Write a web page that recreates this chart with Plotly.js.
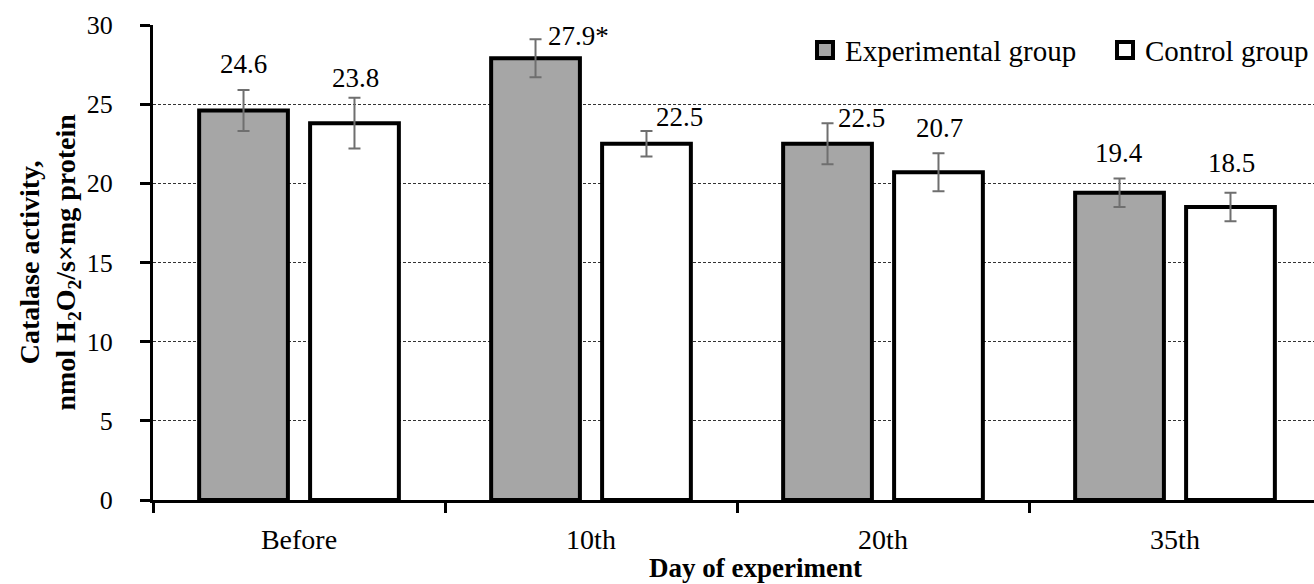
<!DOCTYPE html>
<html>
<head>
<meta charset="utf-8">
<script src="https://cdn.plot.ly/plotly-3.0.1.min.js"></script>
<style>
  html, body { margin: 0; padding: 0; background: #ffffff; }
  #chart { width: 1314px; height: 584px; }
</style>
</head>
<body>
<div id="chart"></div>
<script>
// ---- data ----
var categories = ['Before', '10th', '20th', '35th'];
var experimental = [24.6, 27.9, 22.5, 19.4];
var control = [23.8, 22.5, 20.7, 18.5];
var experimentalErr = [1.3, 1.2, 1.3, 0.9];
var controlErr = [1.6, 0.8, 1.2, 0.9];
var experimentalMarks = ['', '*', '', ''];
var controlMarks = ['', '', '', ''];
var seriesNames = ['Experimental group', 'Control group'];
var yTicks = [0, 5, 10, 15, 20, 25, 30];

// ---- label placement style (pixels) ----
var expLabelStyle = [
  {anchor: 'center', dx: 0, dy: 30},
  {anchor: 'left', dx: 11, dy: 5},
  {anchor: 'left', dx: 9, dy: 9},
  {anchor: 'center', dx: 0, dy: 23}
];
var ctrlLabelStyle = [
  {anchor: 'center', dx: 0, dy: 28},
  {anchor: 'left', dx: 7, dy: 10},
  {anchor: 'center', dx: 0, dy: 27},
  {anchor: 'center', dx: 0, dy: 27}
];

var FONT = 'Liberation Serif';
var GREY = '#a6a6a6';
var ERRC = '#6f6f6f';
var BAROFF = 56;

var traces = [
  {
    type: 'bar', x: categories, y: experimental, name: seriesNames[0], showlegend: false,
    marker: {color: GREY, line: {color: '#000000', width: 4}},
    error_y: {type: 'data', array: experimentalErr, visible: true, color: ERRC, thickness: 2, width: 6},
    hoverinfo: 'x+y'
  },
  {
    type: 'bar', x: categories, y: control, name: seriesNames[1], showlegend: false,
    marker: {color: '#ffffff', line: {color: '#000000', width: 4}},
    error_y: {type: 'data', array: controlErr, visible: true, color: ERRC, thickness: 2, width: 6},
    hoverinfo: 'x+y'
  },
  {
    type: 'scatter', mode: 'markers', x: [null], y: [null], name: seriesNames[0],
    marker: {symbol: 'square', size: 16, color: GREY, line: {color: '#000000', width: 4}}
  },
  {
    type: 'scatter', mode: 'markers', x: [null], y: [null], name: seriesNames[1],
    marker: {symbol: 'square', size: 16, color: '#ffffff', line: {color: '#000000', width: 4}}
  }
];

var annotations = [];
function addLabels(vals, marks, styles, sign) {
  for (var i = 0; i < vals.length; i++) {
    var st = styles[i];
    annotations.push({
      x: categories[i], y: vals[i], xref: 'x', yref: 'y',
      text: vals[i].toFixed(1) + marks[i],
      showarrow: false,
      xanchor: st.anchor, yanchor: 'bottom',
      xshift: sign * BAROFF + st.dx, yshift: st.dy,
      font: {family: FONT, size: 27, color: '#000000'}
    });
  }
}
addLabels(experimental, experimentalMarks, expLabelStyle, -1);
addLabels(control, controlMarks, ctrlLabelStyle, 1);

// axis titles
annotations.push({
  xref: 'paper', yref: 'paper', x: 0.519, y: -0.1768, xanchor: 'center', yanchor: 'bottom',
  yshift: -1,
  text: '<b>Day of experiment</b>', showarrow: false,
  font: {family: FONT, size: 27, color: '#000000'}
});
annotations.push({
  xref: 'paper', yref: 'paper', x: -0.0895, y: 0.5, xanchor: 'center', yanchor: 'middle',
  textangle: -90,
  text: '<b>Catalase activity,<br>nmol H<sub>2</sub>O<sub>2</sub>/s×mg protein</b>', showarrow: false,
  font: {family: FONT, size: 28, color: '#000000'}
});

var layout = {
  width: 1314, height: 584,
  margin: {l: 153, r: 0, t: 25, b: 84, pad: 0, autoexpand: false},
  paper_bgcolor: '#ffffff', plot_bgcolor: '#ffffff',
  barmode: 'group', bargap: 0.24, bargroupgap: 0.2,
  font: {family: FONT, color: '#000000', size: 25},
  showlegend: true,
  legend: {
    orientation: 'h', x: 1.0784, xanchor: 'right', y: 0.947, yanchor: 'middle',
    font: {family: FONT, size: 29, color: '#000000'},
    bgcolor: 'rgba(0,0,0,0)', itemsizing: 'trace',
    entrywidth: 255, entrywidthmode: 'pixels'
  },
  xaxis: {
    type: 'category', range: [-0.5, 3.476], automargin: false,
    showline: true, linecolor: '#000000', linewidth: 3,
    ticks: 'outside', tickson: 'boundaries', ticklen: 10, tickwidth: 3, tickcolor: '#000000',
    ticklabelstandoff: 12,
    tickfont: {family: FONT, size: 28, color: '#000000'},
    showgrid: false, zeroline: false, fixedrange: true
  },
  yaxis: {
    range: [0, 30], tickmode: 'array', tickvals: yTicks, ticktext: yTicks.map(String), automargin: false,
    showline: true, linecolor: '#000000', linewidth: 3,
    ticks: 'outside', ticklen: 10, tickwidth: 3, tickcolor: '#000000',
    ticklabelstandoff: 22,
    tickfont: {family: FONT, size: 26, color: '#000000'},
    showgrid: true, gridcolor: '#333333', gridwidth: 1, griddash: '3px,2px',
    zeroline: false, fixedrange: true
  },
  annotations: annotations
};

Plotly.newPlot('chart', traces, layout, {displayModeBar: false, staticPlot: true});
</script>
</body>
</html>
